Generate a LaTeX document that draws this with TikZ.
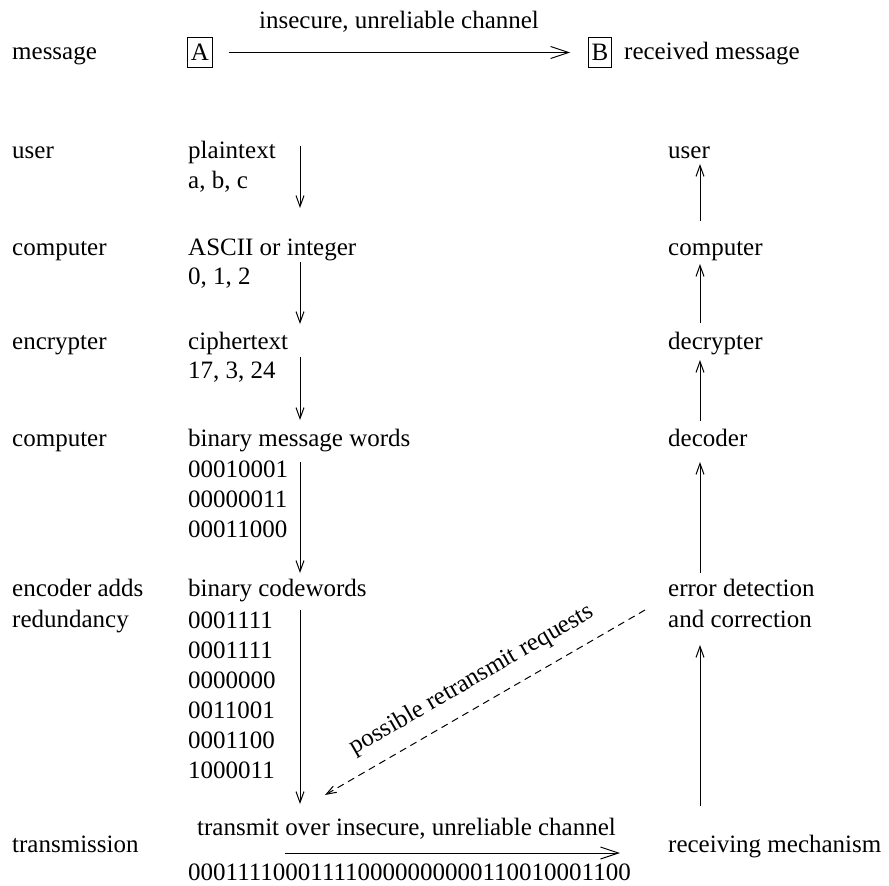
\documentclass[tikz,border=0pt]{standalone}
\usepackage{fontspec}
\setmainfont{Liberation Serif}
\usetikzlibrary{arrows.meta}
\begin{document}
\begin{tikzpicture}[x=1pt,y=-1pt,
  bigfont/.style={font=\fontsize{25}{30}\selectfont},
  txt/.style={bigfont, anchor=base west, inner sep=0pt},
  letterbox/.style={bigfont, draw, line width=1pt, inner xsep=3pt, inner ysep=7pt, text height=16.5pt, text depth=0pt},
  line/.style={line width=1pt},
  vflow/.style={line, -{Straight Barb[length=11pt,width=8pt,line width=1pt]}},
  hflow/.style={line, -{Straight Barb[length=18pt,width=12pt,line width=1pt]}},
  retry/.style={line, dash pattern=on 7pt off 5pt, -{Straight Barb[length=10pt,width=7pt,line width=1pt]}}
]
\useasboundingbox (0,0) rectangle (889,886);

% top row
\node[txt] (msg) at (12,59) {message};
\node[letterbox] (A) at (200,52.5) {A};
\node[letterbox] (B) at (600,52.5) {B};
\node[txt] (recv) at (624,59) {received message};
\draw[hflow, shorten <=16pt, shorten >=18pt] (A) -- (B);
\node[bigfont, anchor=base, inner sep=0pt] (chan) at (399,28) {insecure, unreliable channel};

% left column
\node[txt] (l1) at (12,158) {user};
\node[txt] (l2) at (12,255) {computer};
\node[txt] (l3) at (12,349) {encrypter};
\node[txt] (l4) at (12,446) {computer};
\node[txt] (l5) at (12,596) {encoder adds};
\node[txt] (l6) at (12,627) {redundancy};
\node[txt] (l7) at (12,852) {transmission};

% middle column
\node[txt] (m1) at (188,158) {plaintext};
\node[txt] (m1b) at (188,188) {a, b, c};
\node[txt] (m2) at (188,255) {ASCII or integer};
\node[txt] (m2b) at (188,284) {0, 1, 2};
\node[txt] (m3) at (188,349) {ciphertext};
\node[txt] (m3b) at (188,378) {17, 3, 24};
\node[txt] (m4) at (188,446) {binary message words};
\node[txt] (m4a) at (188,477) {00010001};
\node[txt] (m4b) at (188,507) {00000011};
\node[txt] (m4c) at (188,537) {00011000};
\node[txt] (m5) at (188,596) {binary codewords};
\node[txt] (c1) at (188,628) {0001111};
\node[txt] (c2) at (188,658) {0001111};
\node[txt] (c3) at (188,688) {0000000};
\node[txt] (c4) at (188,718) {0011001};
\node[txt] (c5) at (188,748) {0001100};
\node[txt] (c6) at (188,778) {1000011};
\node[txt] (tlab) at (197,835) {transmit over insecure, unreliable channel};
\node[txt] (bits) at (188,880) {000111100011110000000000110010001100};

% right column
\node[txt] (r1) at (668,158) {user};
\node[txt] (r2) at (668,255) {computer};
\node[txt] (r3) at (668,349) {decrypter};
\node[txt] (r4) at (668,446) {decoder};
\node[txt] (r5) at (668,596) {error detection};
\node[txt] (r6) at (668,627) {and correction};
\node[txt] (r7) at (668,852) {receiving mechanism};

% middle arrows
\coordinate (a1s) at (300,146); \coordinate (a1e) at (300,208);
\coordinate (a2s) at (300,262); \coordinate (a2e) at (300,324);
\coordinate (a3s) at (300,357); \coordinate (a3e) at (300,420);
\coordinate (a4s) at (300,462); \coordinate (a4e) at (300,573);
\coordinate (a5s) at (300,610); \coordinate (a5e) at (300,804);
\draw[vflow] (a1s) -- (a1e);
\draw[vflow] (a2s) -- (a2e);
\draw[vflow] (a3s) -- (a3e);
\draw[vflow] (a4s) -- (a4e);
\draw[vflow] (a5s) -- (a5e);

% right arrows
\coordinate (b1s) at (700,221); \coordinate (b1e) at (700,164);
\coordinate (b2s) at (700,323); \coordinate (b2e) at (700,264);
\coordinate (b3s) at (700,421); \coordinate (b3e) at (700,360);
\coordinate (b4s) at (700,573); \coordinate (b4e) at (700,462);
\coordinate (b5s) at (700,806); \coordinate (b5e) at (700,645);
\draw[vflow] (b1s) -- (b1e);
\draw[vflow] (b2s) -- (b2e);
\draw[vflow] (b3s) -- (b3e);
\draw[vflow] (b4s) -- (b4e);
\draw[vflow] (b5s) -- (b5e);

% bottom transmission arrow
\coordinate (ts) at (285,853); \coordinate (te) at (620,853);
\draw[hflow] (ts) -- (te);

% retransmit requests
\coordinate (ds) at (645,610); \coordinate (de) at (325,795);
\draw[retry] (ds) -- (de) node[midway, sloped, above=14pt, bigfont, inner sep=0pt] (rq) {possible retransmit requests};
\end{tikzpicture}
\end{document}
